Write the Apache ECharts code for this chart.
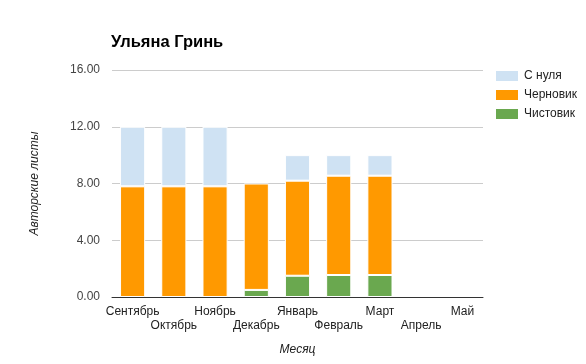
<!DOCTYPE html>
<html><head><meta charset="utf-8">
<script src="https://cdn.jsdelivr.net/npm/echarts@6/dist/echarts.min.js"></script>
<style>html,body{margin:0;padding:0;background:#fff}#c{width:586px;height:364px}</style>
</head><body><div id="c"></div>
<script>
const months = ['Сентябрь','Октябрь','Ноябрь','Декабрь','Январь','Февраль','Март','Апрель','Май'];
const chistovik = [null, null, null, 0.5, 1.5, 1.55, 1.55, null, null];
const chernovik = [7.8, 7.8, 7.8, 7.5, 6.7, 7.0, 7.0, null, null];
const sNulya = [4.2, 4.2, 4.2, null, 1.8, 1.45, 1.45, null, null];
const yTicks = [0, 4, 8, 12, 16];

const chart = echarts.init(document.getElementById('c'));
const font = 'Arial, "Liberation Sans", sans-serif';
const bar = (name, data, color) => ({
  name, type: 'bar', stack: 'a', data, barCategoryGap: '39%',
  itemStyle: { color, borderColor: '#fff', borderWidth: 1 },
  emphasis: { disabled: true }
});
chart.setOption({
  animation: false,
  textStyle: { fontFamily: font },
  title: { text: 'Ульяна Гринь', left: 111, top: 34, padding: 0,
    textStyle: { fontSize: 16.5, fontWeight: 'bold', color: '#000', fontFamily: font } },
  legend: { orient: 'vertical', left: 494, top: 69, padding: 0, itemWidth: 24, itemHeight: 12, itemGap: 5,
    icon: 'rect', data: ['С нуля', 'Черновик', 'Чистовик'],
    textStyle: { fontSize: 12, color: '#222' } },
  grid: { left: 112, right: 103, top: 70, bottom: 67 },
  xAxis: { type: 'category', data: months,
    name: 'Месяц', nameLocation: 'middle', nameGap: 47,
    nameTextStyle: { fontStyle: 'italic', fontSize: 12, color: '#222' },
    axisLine: { lineStyle: { color: '#333' } }, axisTick: { show: false },
    axisLabel: { interval: 0, fontSize: 12, color: '#222', lineHeight: 14, margin: 8,
      formatter: (v, i) => (i % 2 ? '\n' + v : v) } },
  yAxis: { type: 'value', min: yTicks[0], max: yTicks[yTicks.length - 1], interval: 4,
    name: 'Авторские листы', nameLocation: 'middle', nameGap: 71,
    nameTextStyle: { fontStyle: 'italic', fontSize: 12, color: '#222' },
    axisLine: { show: false }, axisTick: { show: false },
    axisLabel: { fontSize: 12, color: '#444', margin: 12, formatter: v => v.toFixed(2) },
    splitLine: { lineStyle: { color: '#ccc' } } },
  series: [
    bar('Чистовик', chistovik, '#6aa84f'),
    bar('Черновик', chernovik, '#ff9900'),
    bar('С нуля', sNulya, '#cfe2f3')
  ]
});
</script></body></html>
